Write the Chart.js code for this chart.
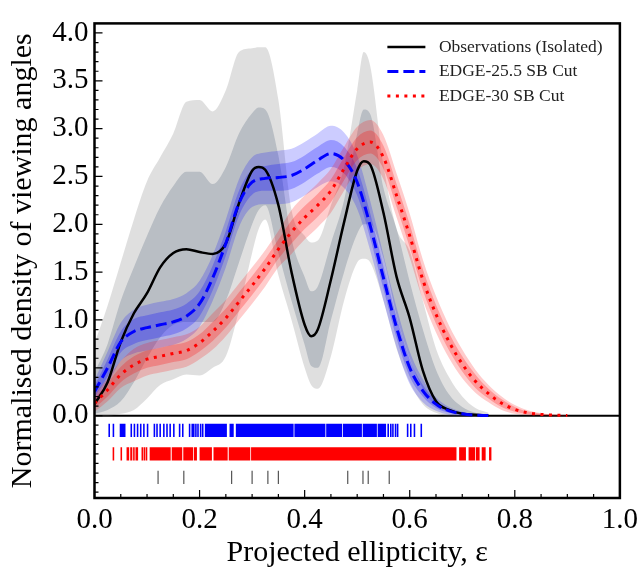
<!DOCTYPE html>
<html>
<head>
<meta charset="utf-8">
<script src="https://cdn.jsdelivr.net/npm/chart.js@4.4.1/dist/chart.umd.min.js"></script>
<style>
  html, body { margin: 0; padding: 0; background: #fff; }
  #wrap { width: 643px; height: 574px; }
</style>
</head>
<body>
<div id="wrap"><canvas id="chart-canvas" width="643" height="574"></canvas></div>
<script>
// ---- data ----
const seriesNames = ["Observations (Isolated)", "EDGE-25.5 SB Cut", "EDGE-30 SB Cut"];

// observations (isolated): median + 1 sigma / 2 sigma bands
const obsX = [0, 0.025, 0.05, 0.075, 0.1, 0.125, 0.15, 0.175, 0.2, 0.225, 0.25, 0.275, 0.3, 0.3125, 0.325, 0.35, 0.375, 0.4, 0.4125, 0.425, 0.45, 0.475, 0.5, 0.5125, 0.525, 0.55, 0.575, 0.6, 0.625, 0.65, 0.675, 0.7, 0.725, 0.75];
const obsMedian = [0.12, 0.35, 0.77, 1.07, 1.28, 1.55, 1.70, 1.74, 1.71, 1.69, 1.80, 2.22, 2.56, 2.60, 2.57, 2.20, 1.50, 0.95, 0.83, 0.90, 1.42, 2.02, 2.56, 2.66, 2.62, 2.12, 1.45, 1.02, 0.47, 0.15, 0.06, 0.02, 0.01, 0.0];
const obsOuterHi = [0.75, 1.15, 1.6, 2.05, 2.45, 2.7, 2.95, 3.28, 3.3, 3.18, 3.4, 3.8, 3.84, 3.85, 3.85, 3.3, 2.15, 1.88, 1.81, 1.83, 2.2, 2.6, 3.4, 3.8, 3.65, 2.62, 1.95, 1.72, 1.2, 0.7, 0.4, 0.2, 0.08, 0.03];
const obsInnerHi = [0.45, 0.75, 1.2, 1.55, 1.88, 2.18, 2.4, 2.55, 2.55, 2.42, 2.6, 2.95, 3.16, 3.22, 3.2, 2.72, 1.85, 1.45, 1.30, 1.35, 1.8, 2.25, 2.95, 3.2, 3.15, 2.38, 1.95, 1.4, 0.9, 0.48, 0.22, 0.09, 0.03, 0.01];
const obsInnerLo = [0.02, 0.06, 0.15, 0.35, 0.6, 0.82, 0.95, 0.98, 0.98, 0.98, 1.2, 1.6, 2.0, 2.15, 2.2, 1.7, 1.2, 0.74, 0.52, 0.5, 1.0, 1.5, 1.9, 2.0, 2.0, 1.65, 1.05, 0.6, 0.28, 0.1, 0.04, 0.01, 0.0, 0.0];
const obsOuterLo = [0.0, 0.0, 0.02, 0.06, 0.18, 0.32, 0.38, 0.43, 0.42, 0.5, 0.62, 1.1, 1.7, 1.95, 2.05, 1.47, 1.0, 0.5, 0.32, 0.28, 0.62, 1.2, 1.6, 1.64, 1.6, 1.2, 0.7, 0.35, 0.12, 0.03, 0.0, 0.0, 0.0, 0.0];

// EDGE-25.5 SB cut
const blueX = [0, 0.025, 0.05, 0.075, 0.1, 0.125, 0.15, 0.175, 0.2, 0.225, 0.25, 0.275, 0.3, 0.325, 0.35, 0.375, 0.4, 0.425, 0.45, 0.475, 0.5, 0.525, 0.55, 0.575, 0.6, 0.625, 0.65, 0.675, 0.7, 0.725, 0.75];
const blueMedian = [0.25, 0.50, 0.77, 0.88, 0.92, 0.95, 0.98, 1.04, 1.17, 1.44, 1.80, 2.22, 2.44, 2.48, 2.49, 2.51, 2.58, 2.67, 2.74, 2.67, 2.44, 1.98, 1.44, 0.92, 0.50, 0.26, 0.12, 0.05, 0.02, 0.005, 0.0];
const blueInnerLo = [0.19, 0.41, 0.66, 0.75, 0.79, 0.82, 0.85, 0.91, 1.04, 1.31, 1.67, 2.09, 2.31, 2.35, 2.35, 2.37, 2.44, 2.53, 2.60, 2.53, 2.30, 1.85, 1.32, 0.81, 0.41, 0.20, 0.08, 0.03, 0.01, 0.0, 0.0];
const blueInnerHi = [0.31, 0.59, 0.88, 1.01, 1.05, 1.08, 1.11, 1.17, 1.30, 1.57, 1.93, 2.35, 2.57, 2.61, 2.63, 2.65, 2.72, 2.81, 2.88, 2.81, 2.58, 2.11, 1.56, 1.03, 0.59, 0.32, 0.16, 0.07, 0.03, 0.01, 0.003];
const blueOuterLo = [0.13, 0.33, 0.57, 0.65, 0.68, 0.71, 0.74, 0.80, 0.93, 1.20, 1.55, 1.97, 2.18, 2.21, 2.21, 2.23, 2.30, 2.39, 2.45, 2.38, 2.16, 1.72, 1.20, 0.71, 0.33, 0.14, 0.05, 0.01, 0.0, 0.0, 0.0];
const blueOuterHi = [0.37, 0.67, 0.97, 1.11, 1.16, 1.19, 1.22, 1.28, 1.41, 1.68, 2.05, 2.47, 2.70, 2.75, 2.77, 2.79, 2.86, 2.95, 3.03, 2.96, 2.72, 2.24, 1.68, 1.13, 0.67, 0.38, 0.19, 0.09, 0.04, 0.015, 0.005];

// EDGE-30 SB cut
const redX = [0, 0.025, 0.05, 0.075, 0.1, 0.125, 0.15, 0.175, 0.2, 0.225, 0.25, 0.275, 0.3, 0.325, 0.35, 0.375, 0.4, 0.425, 0.45, 0.475, 0.5, 0.525, 0.55, 0.575, 0.6, 0.625, 0.65, 0.675, 0.7, 0.725, 0.75, 0.775, 0.8, 0.825, 0.85, 0.875, 0.9];
const redMedian = [0.13, 0.27, 0.43, 0.53, 0.59, 0.62, 0.65, 0.68, 0.76, 0.88, 1.02, 1.19, 1.36, 1.54, 1.74, 1.92, 2.07, 2.20, 2.35, 2.58, 2.79, 2.86, 2.70, 2.30, 1.88, 1.42, 1.06, 0.77, 0.54, 0.36, 0.23, 0.13, 0.065, 0.03, 0.013, 0.005, 0.002];
const redInnerLo = [0.08, 0.20, 0.35, 0.44, 0.50, 0.53, 0.56, 0.59, 0.67, 0.78, 0.92, 1.09, 1.26, 1.44, 1.64, 1.80, 1.95, 2.08, 2.23, 2.46, 2.67, 2.74, 2.58, 2.18, 1.76, 1.31, 0.96, 0.68, 0.46, 0.29, 0.18, 0.09, 0.04, 0.018, 0.007, 0.002, 0.001];
const redInnerHi = [0.18, 0.34, 0.51, 0.62, 0.68, 0.71, 0.74, 0.77, 0.85, 0.98, 1.12, 1.29, 1.46, 1.64, 1.84, 2.04, 2.19, 2.32, 2.47, 2.70, 2.91, 2.98, 2.82, 2.42, 2.00, 1.53, 1.16, 0.86, 0.62, 0.43, 0.28, 0.17, 0.09, 0.042, 0.019, 0.008, 0.003];
const redOuterLo = [0.04, 0.15, 0.29, 0.36, 0.42, 0.45, 0.48, 0.51, 0.59, 0.69, 0.83, 1.00, 1.17, 1.35, 1.55, 1.69, 1.84, 1.97, 2.12, 2.35, 2.56, 2.63, 2.47, 2.07, 1.65, 1.21, 0.87, 0.60, 0.39, 0.24, 0.14, 0.06, 0.02, 0.005, 0.001, 0.0, 0.0];
const redOuterHi = [0.22, 0.39, 0.57, 0.70, 0.76, 0.79, 0.82, 0.85, 0.93, 1.07, 1.21, 1.38, 1.55, 1.73, 1.93, 2.15, 2.30, 2.43, 2.58, 2.81, 3.02, 3.09, 2.93, 2.53, 2.11, 1.63, 1.25, 0.94, 0.69, 0.48, 0.32, 0.20, 0.11, 0.055, 0.025, 0.011, 0.004];

// rug plots: single ticks and dense runs of ticks
const blueRugTicks = [0.028, 0.036, 0.070, 0.076, 0.082, 0.088, 0.094, 0.101, 0.114, 0.119, 0.125, 0.132, 0.138, 0.144, 0.151, 0.162, 0.168, 0.181, 0.186, 0.189, 0.193, 0.197, 0.202, 0.206, 0.559, 0.564, 0.568, 0.573, 0.577, 0.596, 0.602, 0.609, 0.622];
const blueRugRuns = [[0.048, 0.059], [0.210, 0.252], [0.257, 0.265], [0.269, 0.379], [0.3805, 0.4395], [0.441, 0.4715], [0.473, 0.509], [0.5105, 0.5375], [0.539, 0.555]];
const redRugTicks = [0.036, 0.051, 0.075, 0.091, 0.095, 0.099];
const redRugRuns = [[0.061, 0.066], [0.068, 0.072], [0.078, 0.083], [0.105, 0.145], [0.147, 0.167], [0.169, 0.1875], [0.189, 0.195], [0.200, 0.2235], [0.2265, 0.2535], [0.2555, 0.2965], [0.298, 0.689], [0.694, 0.707], [0.712, 0.7245], [0.726, 0.733], [0.737, 0.7445], [0.751, 0.7555]];
const obsRug = [0.121, 0.170, 0.261, 0.300, 0.330, 0.350, 0.482, 0.511, 0.521, 0.561];

// ---- layout / style ----
const serif = "'Liberation Serif', 'Times New Roman', serif";
const tickHalf = 0.0015;
const rugRow = { blue: -0.155, red: -0.40, obs: -0.645 };
const rugWidth = 13.3;

Chart.defaults.font.family = serif;
Chart.defaults.color = "#000";

const pts = (xs, ys) => xs.map((x, i) => ({ x, y: ys[i] }));

const lineSet = (label, xs, ys, color, width, dash, order) => ({
  label,
  data: pts(xs, ys),
  borderColor: color,
  borderWidth: width,
  borderDash: dash,
  fill: false,
  pointRadius: 0,
  cubicInterpolationMode: "monotone",
  order,
});

// upper edge fills down to the lower edge (next dataset)
const band = (xs, hi, lo, color, order) => [
  { data: pts(xs, hi), fill: "+1", backgroundColor: color, borderColor: "transparent", borderWidth: 0, pointRadius: 0, cubicInterpolationMode: "monotone", order },
  { data: pts(xs, lo), fill: false, borderColor: "transparent", borderWidth: 0, pointRadius: 0, cubicInterpolationMode: "monotone", order },
];

const rugSet = (ticks, runs, level, color) => {
  const segs = ticks.map((t) => [t - tickHalf, t + tickHalf]).concat(runs).sort((a, b) => a[0] - b[0]);
  const data = [];
  segs.forEach(([a, b]) => {
    data.push({ x: a, y: level }, { x: b, y: level }, { x: b, y: null });
  });
  return { data, borderColor: color, borderWidth: rugWidth, borderCapStyle: "butt", pointRadius: 0, fill: false, tension: 0, order: 0 };
};

const datasets = [
  lineSet(seriesNames[0], obsX, obsMedian, "#000000", 2.5, [], 2),
  lineSet(seriesNames[1], blueX, blueMedian, "#0000ff", 3, [11, 5], 1),
  lineSet(seriesNames[2], redX, redMedian, "#ff0000", 3, [3, 5.5], 0),
  ...band(obsX, obsOuterHi, obsOuterLo, "rgba(128,128,128,0.25)", 8),
  ...band(obsX, obsInnerHi, obsInnerLo, "rgba(97,113,133,0.3)", 7),
  ...band(blueX, blueOuterHi, blueOuterLo, "rgba(0,0,255,0.2)", 6),
  ...band(blueX, blueInnerHi, blueInnerLo, "rgba(0,0,255,0.25)", 5),
  ...band(redX, redOuterHi, redOuterLo, "rgba(255,0,0,0.2)", 4),
  ...band(redX, redInnerHi, redInnerLo, "rgba(255,0,0,0.25)", 3),
  rugSet(blueRugTicks, blueRugRuns, rugRow.blue, "#0000ff"),
  rugSet(redRugTicks, redRugRuns, rugRow.red, "#ff0000"),
  {
    data: obsRug.map((v) => ({ x: v, y: rugRow.obs })),
    showLine: false,
    pointStyle: "line",
    pointRotation: 90,
    pointRadius: rugWidth / 2,
    pointBorderColor: "#555",
    pointBorderWidth: 1.2,
    order: 0,
  },
];

// frame, inward ticks, panel divider and legend
const framePlugin = {
  id: "frame",
  beforeDatasetsDraw(chart) {
    const { ctx, chartArea: a, scales: { y } } = chart;
    const y0 = y.getPixelForValue(0);
    ctx.save();
    ctx.strokeStyle = "#000";
    ctx.lineWidth = 2;
    ctx.beginPath();
    ctx.moveTo(a.left, y0);
    ctx.lineTo(a.right, y0);
    ctx.stroke();
    ctx.restore();
  },
  afterDraw(chart) {
    const { ctx, chartArea: a, scales: { x, y } } = chart;
    ctx.save();
    ctx.strokeStyle = "#000";
    ctx.lineWidth = 1.2;
    ctx.beginPath();
    for (let k = -8; k <= 40; k++) {
      const py = y.getPixelForValue(k / 10);
      const len = k >= 0 && k % 5 === 0 ? 8 : 4;
      ctx.moveTo(a.left, py);
      ctx.lineTo(a.left + len, py);
    }
    for (let k = 0; k <= 20; k++) {
      const px = x.getPixelForValue(k / 20);
      const len = k % 4 === 0 ? 8 : 4;
      ctx.moveTo(px, a.bottom);
      ctx.lineTo(px, a.bottom - len);
    }
    ctx.stroke();
    ctx.lineWidth = 2.5;
    ctx.strokeRect(a.left, a.top, a.right - a.left, a.bottom - a.top);

    // legend (upper right, no frame)
    const x0 = a.right - 232.5;
    const x1 = a.right - 194.5;
    const tx = a.right - 181;
    ctx.font = "17.5px " + serif;
    ctx.textBaseline = "middle";
    ctx.textAlign = "left";
    [0, 1, 2].forEach((i) => {
      const ds = chart.data.datasets[i];
      const ly = a.top + 23.7 + i * 24.5;
      ctx.strokeStyle = ds.borderColor;
      ctx.lineWidth = ds.borderWidth;
      ctx.setLineDash(ds.borderDash);
      ctx.beginPath();
      ctx.moveTo(x0, ly);
      ctx.lineTo(x1, ly);
      ctx.stroke();
      ctx.setLineDash([]);
      ctx.fillStyle = "#222";
      ctx.fillText(ds.label, tx, ly);
    });
    ctx.restore();
  },
};

new Chart(document.getElementById("chart-canvas").getContext("2d"), {
  type: "line",
  data: { datasets },
  options: {
    responsive: false,
    animation: false,
    events: [],
    layout: { padding: { left: 0, right: 20.5, top: 8, bottom: 0 } },
    plugins: { legend: { display: false }, tooltip: { enabled: false } },
    scales: {
      x: {
        type: "linear",
        min: 0,
        max: 1,
        grid: { display: false, drawTicks: false },
        border: { display: false },
        ticks: {
          stepSize: 0.2,
          autoSkip: false,
          maxRotation: 0,
          padding: 5,
          font: { size: 29 },
          color: "#000",
          callback: (v) => v.toFixed(1),
        },
        title: {
          display: true,
          text: "Projected ellipticity, ε",
          font: { size: 30 },
          color: "#000",
          padding: { top: 0, bottom: 3 },
        },
        afterFit: (s) => { s.height = 76; },
      },
      y: {
        type: "linear",
        min: -0.861,
        max: 4.1,
        grid: { display: false, drawTicks: false },
        border: { display: false },
        ticks: {
          stepSize: 0.5,
          includeBounds: false,
          autoSkip: false,
          padding: 6,
          font: { size: 29 },
          color: "#000",
          callback: (v) => (v < -0.01 ? "" : v.toFixed(1)),
        },
        title: {
          display: true,
          text: "Normalised density of viewing angles",
          font: { size: 30 },
          color: "#000",
          padding: { top: 5, bottom: 0 },
        },
        afterFit: (s) => { s.width = 94.5; },
      },
    },
  },
  plugins: [framePlugin],
});
</script>
</body>
</html>
